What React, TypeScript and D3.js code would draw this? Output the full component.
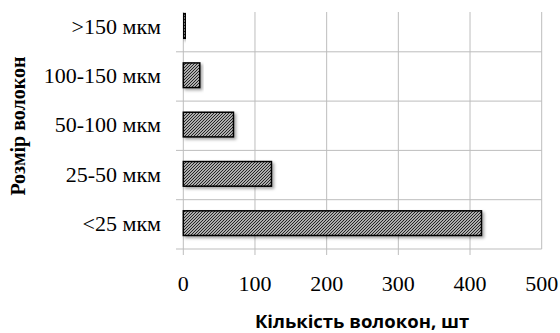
import React from "react";
import * as d3 from "d3";

const categories = [">150 мкм", "100-150 мкм", "50-100 мкм", "25-50 мкм", "<25 мкм"];
const values = [3, 23, 70, 123, 416];
const xTicks = [0, 100, 200, 300, 400, 500];
const xTitle = "Кількість волокон, шт";
const yTitle = "Розмір волокон";

export default function App() {
  const W = 560, H = 333;
  const x = d3.scaleLinear().domain([0, 500]).range([183.3, 541.7]);
  const y = d3.scaleBand<string>().domain(categories).range([2.5, 249]).paddingInner(0.5).paddingOuter(0.25);
  const step = y.step();
  const bounds = categories.map((_, i) => 2.5 + step * (i + 1));
  const top = 12, bottom = 249;
  return (
    <svg width={W} height={H} style={{ position: "absolute", left: 0, top: 0, background: "#fff" }}>
      <defs>
        <pattern id="hatch" patternUnits="userSpaceOnUse" width={3} height={3}>
          <rect width={3} height={3} fill="#e8e8e8" />
          <path d="M-1,1 L1,-1 M0,3 L3,0 M2,4 L4,2" stroke="#1a1a1a" strokeWidth={1.1} />
        </pattern>
        <filter id="shadow" x="-10%" y="-30%" width="130%" height="180%">
          <feDropShadow dx={2} dy={2} stdDeviation={1.5} floodColor="#000" floodOpacity={0.35} />
        </filter>
      </defs>
      {xTicks.map((t) => (
        <line key={"v" + t} x1={x(t)} x2={x(t)} y1={top} y2={t === 500 ? bottom : bottom + 6} stroke="#bdbdbd" strokeWidth={1} />
      ))}
      {bounds.map((b, i) => (
        <line key={"h" + i} x1={176} x2={x(500)} y1={b} y2={b} stroke="#bdbdbd" strokeWidth={1} />
      ))}
      {categories.map((c, i) => (
        <rect key={c} x={x(0)} y={y(c)! - 1.2} width={x(values[i]) - x(0)} height={y.bandwidth()}
          fill="url(#hatch)" stroke="#000" strokeWidth={1.5} filter="url(#shadow)" />
      ))}
      {categories.map((c) => (
        <text key={"l" + c} x={161} y={y(c)! + y.bandwidth() / 2 - 1} dy="0.35em" textAnchor="end"
          fontFamily="Liberation Serif" fontSize={22} fill="#000">{c}</text>
      ))}
      {xTicks.map((t) => (
        <text key={"t" + t} x={x(t)} y={291} textAnchor="middle" fontFamily="Liberation Serif" fontSize={22} fill="#000">{t}</text>
      ))}
      <text x={362} y={328} textAnchor="middle" fontFamily="Open Sans" fontWeight="bold" fontSize={18.5} fill="#000">{xTitle}</text>
      <text transform="translate(25,126) rotate(-90)" textAnchor="middle" fontFamily="Liberation Serif" fontWeight="bold" fontSize={20} fill="#000">{yTitle}</text>
    </svg>
  );
}
